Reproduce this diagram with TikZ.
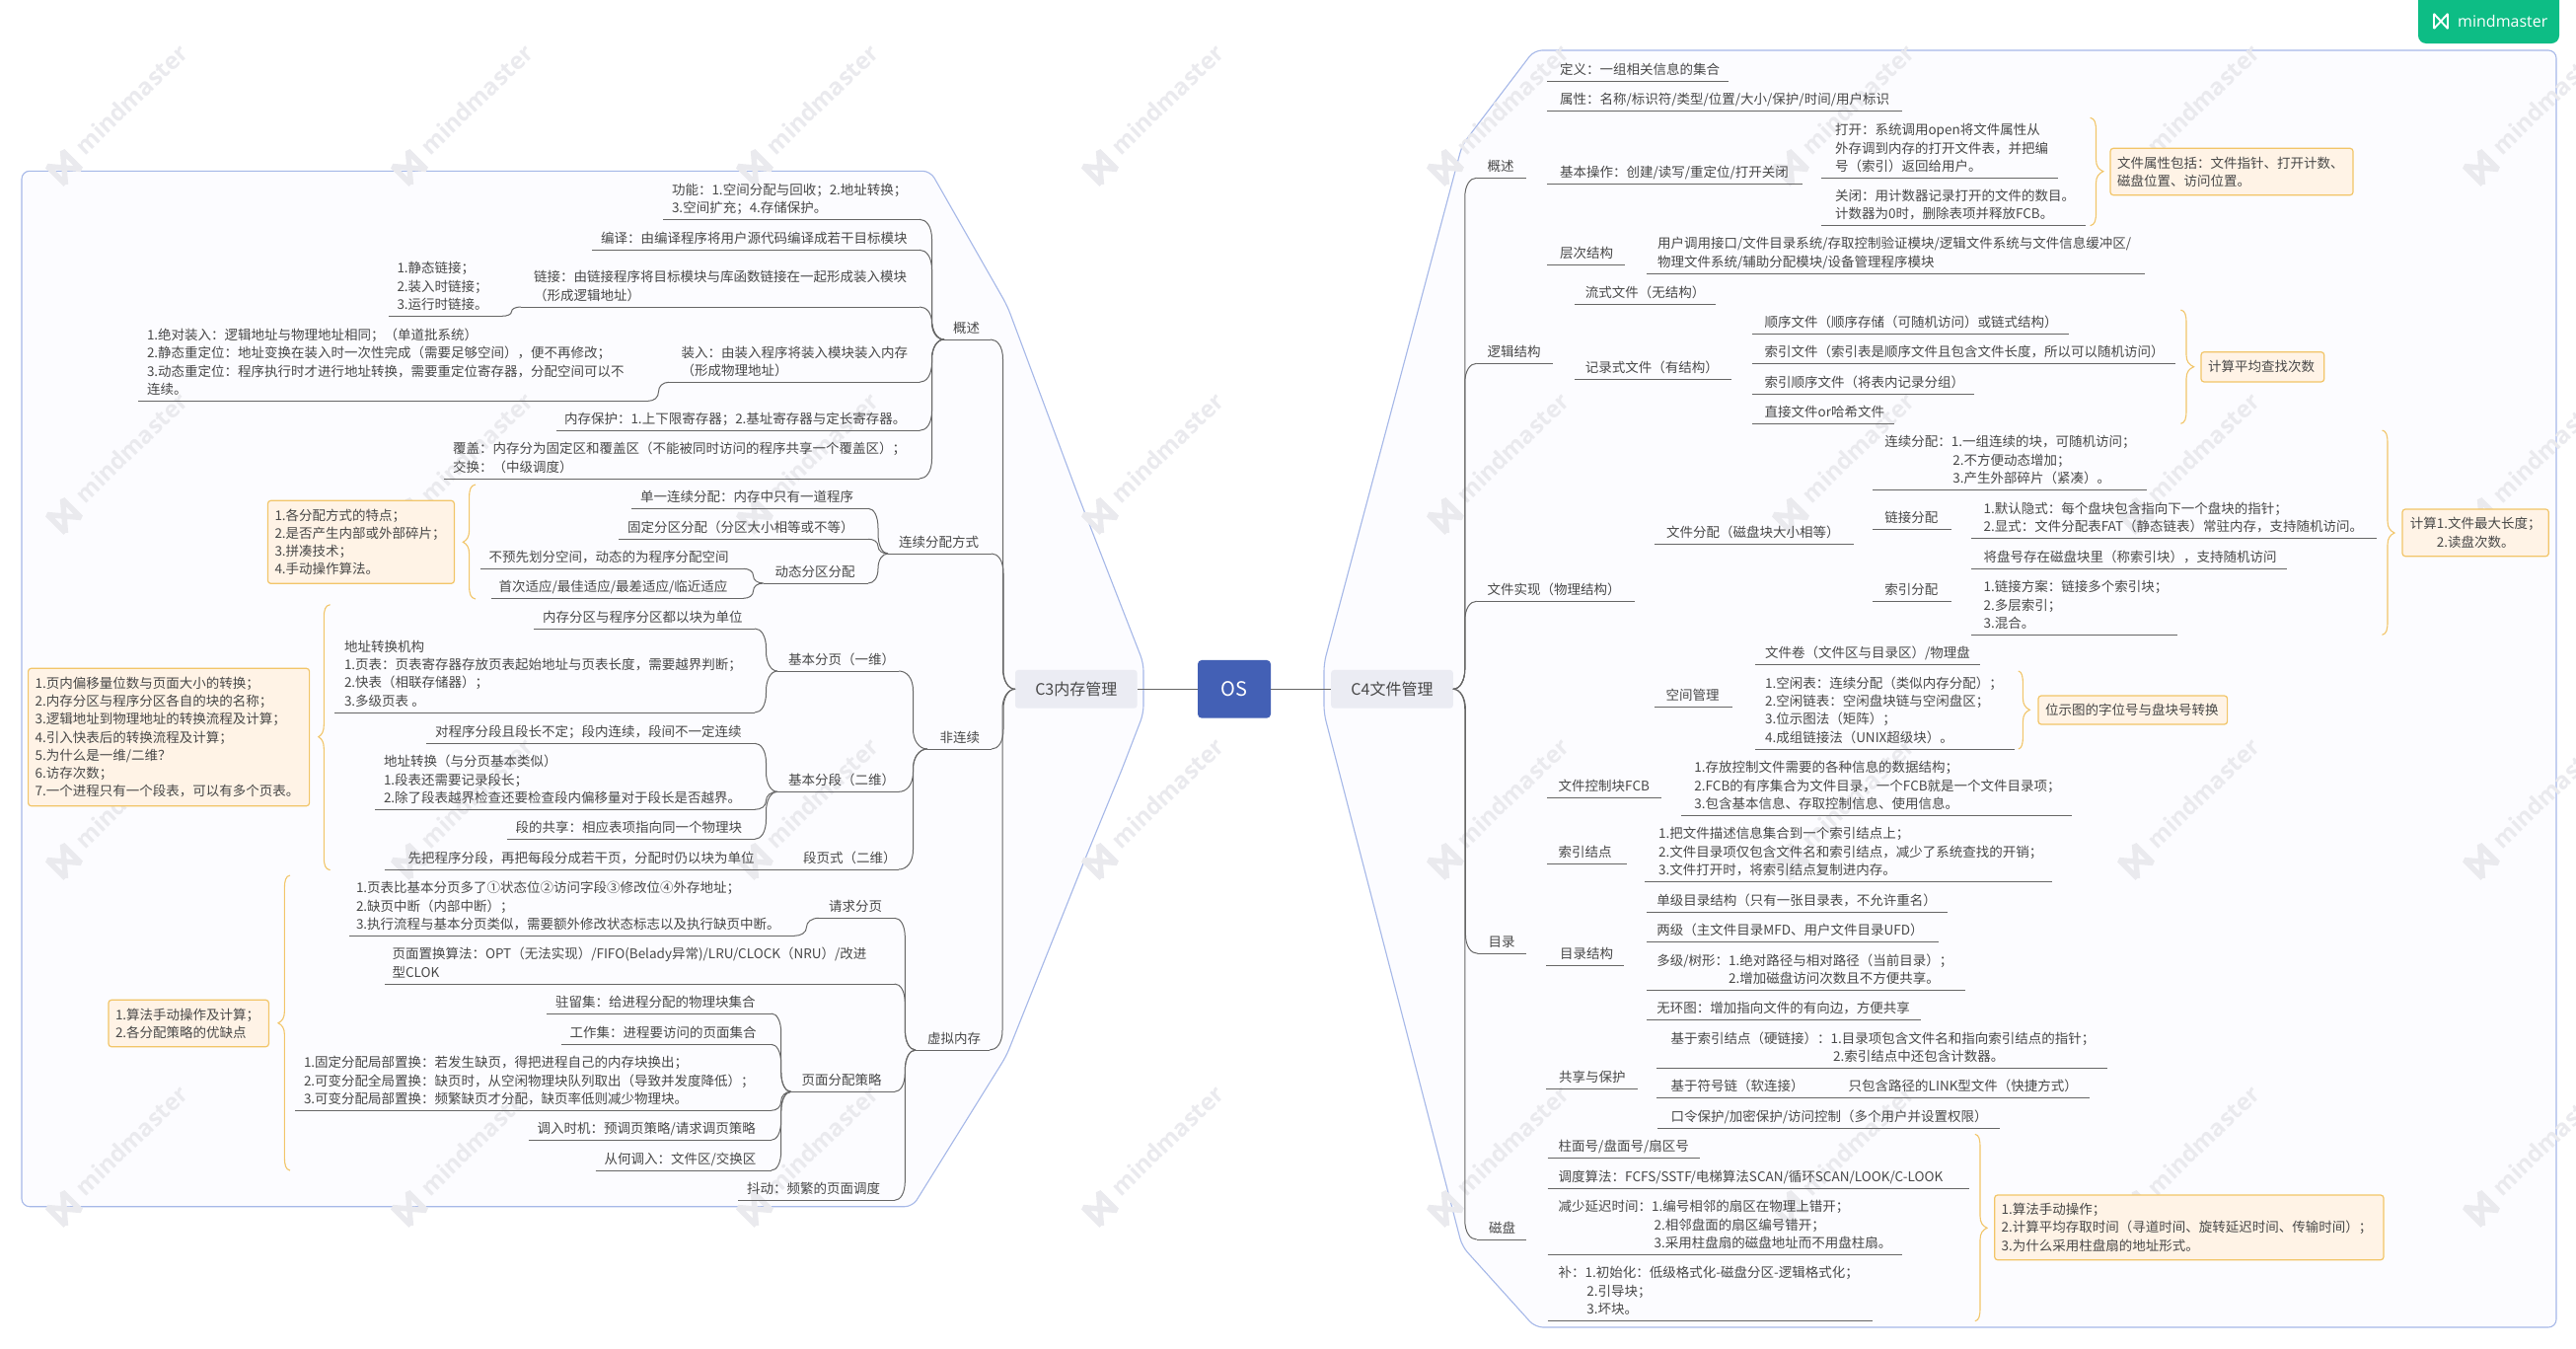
\documentclass[tikz,border=0pt]{standalone}
\usepackage{fontspec}
\setmainfont{Noto Sans CJK SC}
\newfontfamily\wmfont{Open Sans}
\definecolor{txt}{HTML}{484848}
\definecolor{ln}{HTML}{666666}
\definecolor{fr}{HTML}{A6B8E8}
\definecolor{frf}{HTML}{FCFCFF}
\definecolor{orb}{HTML}{F2C568}
\definecolor{orf}{HTML}{FFF3E6}
\definecolor{wm}{HTML}{EAEAEE}
\definecolor{root}{HTML}{4360B5}
\definecolor{mainf}{HTML}{EBECF3}
\definecolor{bdg}{HTML}{0DBD85}
\newcommand{\topicfont}{\fontsize{13.5}{18.3}\selectfont}
\tikzset{
 topic/.style={rectangle,inner xsep=0pt,inner ysep=1.5pt,outer sep=0pt,text=txt,anchor=south west},
 uline/.style={draw=ln,line width=1pt},
 conn/.style={draw=ln,line width=1pt},
 callout/.style={rectangle,draw=orb,fill=orf,line width=1.2pt,rounded corners=3pt,text=txt,outer sep=0pt,inner xsep=7pt,inner ysep=0pt,anchor=north west,font=\topicfont},
 bracepath/.style={draw=orb,line width=1.1pt},
 framepath/.style={draw=fr,fill=frf,line width=1.1pt},
 mainbox/.style={rectangle,fill=mainf,rounded corners=3pt,minimum width=123.6pt,minimum height=38.7pt,text=txt,inner sep=0pt,outer sep=0pt,font=\fontsize{16}{18}\selectfont},
 wmtext/.style={text=wm,font=\wmfont\bfseries\fontsize{24}{26}\selectfont,inner sep=0pt,anchor=west,rotate=44},
}
% [pad]{name}{x0}{x1}{ybottom}{text}
\newcommand{\tp}[6][9]{%
 \pgfmathsetmacro\tpw{#4-#3-#1}%
 \node[topic] (#2) at (#3,#5) {\hspace*{#1pt}\begin{minipage}[b]{\tpw pt}\raggedright\topicfont #6\strut\end{minipage}};
 \draw[uline] (#2.south west) -- (#2.south east);
}
% connector between two anchors
\newcommand{\lk}[2]{%
 \path (#1); \pgfgetlastxy{\lkxa}{\lkya}%
 \path (#2); \pgfgetlastxy{\lkxb}{\lkyb}%
 \pgfmathsetmacro\lkmx{(\lkxa+\lkxb)/2}%
 \pgfmathsetmacro\lkdy{abs(\lkyb-\lkya)}%
 \pgfmathsetmacro\lkr{min(\lkdy/2,20)}%
 \pgfmathsetmacro\lks{\lkyb>\lkya?1:-1}%
 \pgfmathsetmacro\lkcax{\lkxa+0.6*(\lkmx-\lkxa)}%
 \pgfmathsetmacro\lkcby{\lkya+\lks*\lkr*0.45}%
 \pgfmathsetmacro\lkpy{\lkya+\lks*\lkr}%
 \pgfmathsetmacro\lkqy{\lkyb-\lks*\lkr}%
 \pgfmathsetmacro\lkcdy{\lkyb-\lks*\lkr*0.35}%
 \pgfmathsetmacro\lkcex{\lkmx+0.45*(\lkxb-\lkmx)}%
 \draw[conn] (#1) .. controls (\lkcax pt,\lkya) and (\lkmx pt,\lkcby pt) .. (\lkmx pt,\lkpy pt) -- (\lkmx pt,\lkqy pt) .. controls (\lkmx pt,\lkcdy pt) and (\lkcex pt,\lkyb) .. (#2);
}
\newcommand{\lkl}[2]{\lk{#1.south west}{#2.south east}}
\newcommand{\lkr}[2]{\lk{#1.south east}{#2.south west}}
% {xend}{xspine}{xtip}{ytop}{ymid}{ybot}
\newcommand{\bracem}[6]{%
 \draw[bracepath] (#1,#4) .. controls ({#2+(#1-#2)*.2},{#4+1}) and (#2,{#4+5}) .. (#2,{#4+14}) -- (#2,{#5-12})
  .. controls (#2,{#5-5}) and ({#2+(#3-#2)*.4},{#5-2}) .. (#3,#5)
  .. controls ({#2+(#3-#2)*.4},{#5+2}) and (#2,{#5+5}) .. (#2,{#5+12}) -- (#2,{#6-14})
  .. controls (#2,{#6-5}) and ({#2+(#1-#2)*.2},{#6-1}) .. (#1,#6);
}
% [align]{name}{x0}{y0}{x1}{y1}{text}
\newcommand{\cout}[7][left]{%
 \pgfmathsetmacro\cow{#5-#3}\pgfmathsetmacro\coh{#6-#4}\pgfmathsetmacro\cot{#5-#3-14}%
 \node[callout,minimum width=\cow pt,minimum height=\coh pt,text width=\cot pt,align=#1] (#2) at (#3,#4) {#7};
}
\begin{document}
\begin{tikzpicture}[x=1pt,y=-1pt]
\useasboundingbox (0,0) rectangle (2611,1366);
\fill[white] (0,0) rectangle (2611,1366);
% group frames
\draw[framepath,rounded corners=8pt] (22,173.3) -- (943,173.3) -- (1021,310) -- (1092,500) -- (1159,672) -- (1159,723) -- (1137,780) -- (1100,870) -- (1020,1070) -- (925,1222.7) -- (22,1222.7) -- cycle;
\draw[framepath,rounded corners=8pt] (1555,51) -- (2591,51) -- (2591,1345) -- (1556,1345) -- (1482,1263) -- (1342,723) -- (1342,672) -- (1482,147) -- cycle;
% watermarks
\foreach \wx in {65,415,765,1115,1465,1815,2165,2515}{
 \foreach \wy in {170,523,873,1225}{
  \begin{scope}[shift={(\wx,\wy)},rotate=45]
   \draw[wm,line width=5.5pt,line join=bevel] (-11,13) -- (-11,-13) -- (11,13) -- (11,-13) -- (-11,13);
  \end{scope}
  \node[wmtext] (wm\wx x\wy) at (\wx+15,\wy-18) {mindmaster};
 }
}
% badge
\fill[bdg,rounded corners=8pt] (2451,-12) rectangle (2594,44);
\draw[white,line width=1.9pt,line join=bevel] (2467,29) -- (2467,14) -- (2481,29) -- (2481,14) -- (2467,29);
\node[text=white,inner sep=0pt,anchor=west,font=\wmfont\fontsize{16}{18}\selectfont] (badge) at (2491,21) {mindmaster};
% central
\node[rectangle,fill=root,rounded corners=4pt,minimum width=74pt,minimum height=58.7pt,text=white,inner sep=0pt,outer sep=0pt,font=\fontsize{20}{22}\selectfont] (os) at (1251,698.3) {OS};
\node[mainbox] (c3) at (1090.8,698.3) {C3内存管理};
\node[mainbox] (c4) at (1411,698.3) {C4文件管理};
\draw[conn] (os) -- (c3);
\draw[conn] (os) -- (c4);

% ===== C3 =====
\tp{a1}{957}{1004}{344}{概述}
\tp{a11}{672}{932}{222.3}{功能：1.空间分配与回收；2.地址转换；\\3.空间扩充；4.存储保护。}
\tp{a12}{600}{932}{253.3}{编译：由编译程序将用户源代码编译成若干目标模块}
\tp[13]{a13}{528}{932}{311}{链接：由链接程序将目标模块与库函数链接在一起形成装入模块\\（形成逻辑地址）}
\tp{a131}{393.5}{509}{320.3}{1.静态链接；\\2.装入时链接；\\3.运行时链接。}
\tp[12.5]{a14}{678}{932}{387.3}{装入：由装入程序将装入模块装入内存\\（形成物理地址）}
\tp{a141}{140}{657}{406.3}{1.绝对装入：逻辑地址与物理地址相同；（单道批系统）\\2.静态重定位：地址变换在装入时一次性完成（需要足够空间），便不再修改；\\3.动态重定位：程序执行时才进行地址转换，需要重定位寄存器，分配空间可以不\\连续。}
\tp[8]{a15}{564}{932}{436.3}{内存保护：1.上下限寄存器；2.基址寄存器与定长寄存器。}
\tp{a16}{450}{932}{485}{覆盖：内存分为固定区和覆盖区（不能被同时访问的程序共享一个覆盖区）；\\交换：（中级调度）}
\lk{c3.west}{a1.south east}
\lkl{a1}{a11}\lkl{a1}{a12}\lkl{a1}{a13}\lkl{a1}{a14}\lkl{a1}{a15}\lkl{a1}{a16}
\lkl{a13}{a131}\lkl{a14}{a141}

\tp[11]{a2}{900}{1005}{561}{连续分配方式}
\tp{a21}{640}{880}{515.3}{单一连续分配：内存中只有一道程序}
\tp{a22}{627}{880}{546.3}{固定分区分配（分区大小相等或不等）}
\tp[12]{a23}{773.6}{880}{591}{动态分区分配}
\tp{a231}{486.6}{753.5}{576.3}{不预先划分空间，动态的为程序分配空间}
\tp[7.5]{a232}{498}{753.5}{606.3}{首次适应/最佳适应/最差适应/临近适应}
\lk{c3.west}{a2.south east}
\lkl{a2}{a21}\lkl{a2}{a22}\lkl{a2}{a23}\lkl{a23}{a231}\lkl{a23}{a232}

\tp[12.7]{a3}{940}{1005}{759}{非连续}
\tp[11]{a31}{788}{911}{680}{基本分页（一维）}
\tp{a311}{541}{765}{637}{内存分区与程序分区都以块为单位}
\tp[10]{a312}{339}{765}{722}{地址转换机构\\1.页表：页表寄存器存放页表起始地址与页表长度，需要越界判断；\\2.快表（相联存储器）；\\3.多级页表 。}
\tp[11]{a32}{788}{911}{802.3}{基本分段（二维）}
\tp{a321}{432}{765}{753.3}{对程序分段且段长不定；段内连续，段间不一定连续}
\tp{a322}{380}{765}{820.3}{地址转换（与分页基本类似）\\1.段表还需要记录段长；\\2.除了段表越界检查还要检查段内偏移量对于段长是否越界。}
\tp{a323}{513.5}{765}{850.3}{段的共享：相应表项指向同一个物理块}
\tp[15]{a33}{799}{911}{881}{段页式（二维）}
\tp[24]{a331}{389.5}{779}{881}{先把程序分段，再把每段分成若干页，分配时仍以块为单位}
\lk{c3.west}{a3.south east}
\lkl{a3}{a31}\lkl{a3}{a32}\lkl{a3}{a33}
\lkl{a31}{a311}\lkl{a31}{a312}\lkl{a32}{a321}\lkl{a32}{a322}\lkl{a32}{a323}\lkl{a33}{a331}

\tp[12]{a4}{928}{1003}{1064}{虚拟内存}
\tp[10]{a41}{830}{906.7}{930.3}{请求分页}
\tp[7]{a411}{354}{805}{948.3}{1.页表比基本分页多了①状态位②访问字段③修改位④外存地址；\\2.缺页中断（内部中断）；\\3.执行流程与基本分页类似，需要额外修改状态标志以及执行缺页中断。}
\tp[7.5]{a42}{390}{906.7}{997}{页面置换算法：OPT（无法实现）/FIFO(Belady异常)/LRU/CLOCK（NRU）/改进\\型CLOK}
\tp[11]{a43}{801.7}{906.7}{1106.3}{页面分配策略}
\tp{a431}{554}{781.7}{1027}{驻留集：给进程分配的物理块集合}
\tp{a432}{568.6}{781.7}{1058.3}{工作集：进程要访问的页面集合}
\tp{a433}{299}{781.7}{1125.3}{1.固定分配局部置换：若发生缺页，得把进程自己的内存块换出；\\2.可变分配全局置换：缺页时，从空闲物理块队列取出（导致并发度降低）；\\3.可变分配局部置换：频繁缺页才分配，缺页率低则减少物理块。}
\tp{a434}{535.6}{781.7}{1155.3}{调入时机：预调页策略/请求调页策略}
\tp{a435}{603.5}{781.7}{1186}{从何调入：文件区/交换区}
\tp{a44}{748}{906.7}{1216.3}{抖动：频繁的页面调度}
\lk{c3.west}{a4.south east}
\lkl{a4}{a41}\lkl{a4}{a42}\lkl{a4}{a43}\lkl{a4}{a44}
\lkl{a41}{a411}
\lkl{a43}{a431}\lkl{a43}{a432}\lkl{a43}{a433}\lkl{a43}{a434}\lkl{a43}{a435}

\bracem{482}{475.6}{469.3}{491}{549.3}{607}
\bracem{334.6}{328.3}{322.8}{612.7}{746.7}{881.7}
\bracem{294}{288.4}{282}{887}{1036.7}{1186}
\cout{n1}{271.5}{507.3}{460.4}{591.3}{1.各分配方式的特点；\\2.是否产生内部或外部碎片；\\3.拼凑技术；\\4.手动操作算法。}
\cout{n2}{28.6}{677.3}{313.6}{816.7}{1.页内偏移量位数与页面大小的转换；\\2.内存分区与程序分区各自的块的名称；\\3.逻辑地址到物理地址的转换流程及计算；\\4.引入快表后的转换流程及计算；\\5.为什么是一维/二维？\\6.访存次数；\\7.一个进程只有一个段表，可以有多个页表。}
\cout{n3}{110}{1013.3}{272.4}{1060.7}{1.算法手动操作及计算；\\2.各分配策略的优缺点}

% ===== C4 =====
\tp[11]{b1}{1496.7}{1546.6}{180.3}{概述}
\tp[13]{b11}{1568}{1752}{82.3}{定义：一组相关信息的集合}
\tp[13]{b12}{1568}{1927.7}{112.3}{属性：名称/标识符/类型/位置/大小/保护/时间/用户标识}
\tp[13]{b13}{1568}{1827}{186.3}{基本操作：创建/读写/重定位/打开关闭}
\tp[14.5]{b131}{1845.5}{2086.3}{180.3}{打开：系统调用open将文件属性从\\外存调到内存的打开文件表，并把编\\号（索引）返回给用户。}
\tp[14.5]{b132}{1845.5}{2113.5}{228.3}{关闭：用计数器记录打开的文件的数目。\\计数器为0时，删除表项并释放FCB。}
\tp[13]{b14}{1568}{1647}{268.3}{层次结构}
\tp[11]{b141}{1669}{2173.7}{277}{用户调用接口/文件目录系统/存取控制验证模块/逻辑文件系统与文件信息缓冲区/\\物理文件系统/辅助分配模块/设备管理程序模块}
\lk{c4.east}{b1.south west}
\lkr{b1}{b11}\lkr{b1}{b12}\lkr{b1}{b13}\lkr{b1}{b14}
\lkr{b13}{b131}\lkr{b13}{b132}\lkr{b14}{b141}
\bracem{2118.6}{2124.5}{2131.8}{119.3}{173.7}{228.7}
\cout{n4}{2139}{150.3}{2385}{197.7}{文件属性包括：文件指针、打开计数、\\磁盘位置、访问位置。}

\tp[11]{b2}{1496.7}{1573.8}{368.3}{逻辑结构}
\tp[11]{b21}{1595.8}{1739}{308.3}{流式文件（无结构）}
\tp[11]{b22}{1595.8}{1755}{384.3}{记录式文件（有结构）}
\tp[13]{b221}{1775.7}{2096.6}{338.3}{顺序文件（顺序存储（可随机访问）或链式结构）}
\tp[13]{b222}{1775.7}{2205}{368.3}{索引文件（索引表是顺序文件且包含文件长度，所以可以随机访问）}
\tp[13]{b223}{1775.7}{2001}{399}{索引顺序文件（将表内记录分组）}
\tp[13]{b224}{1775.7}{1920.4}{429.3}{直接文件or哈希文件}
\lk{c4.east}{b2.south west}
\lkr{b2}{b21}\lkr{b2}{b22}\lkr{b22}{b221}\lkr{b22}{b222}\lkr{b22}{b223}\lkr{b22}{b224}
\bracem{2210.4}{2216}{2223.6}{314}{371.7}{429.3}
\cout{n5}{2231}{356.7}{2355.7}{387}{计算平均查找次数}

\tp[11]{b3}{1496.7}{1656.8}{609.3}{文件实现（物理结构）}
\tp[12.5]{b31}{1676.6}{1878.5}{551}{文件分配（磁盘块大小相等）}
\tp[12]{b311}{1898.3}{2175.9}{496.3}{连续分配：1.一组连续的块，可随机访问；\\\hspace*{69pt}2.不方便动态增加；\\\hspace*{69pt}3.产生外部碎片（紧凑）。}
\tp[12]{b312}{1898.3}{1977.6}{536.3}{链接分配}
\tp[12.5]{b3121}{1998}{2409}{545.3}{1.默认隐式：每个盘块包含指向下一个盘块的指针；\\2.显式：文件分配表FAT（静态链表）常驻内存，支持随机访问。}
\tp[12]{b313}{1898.3}{1977.6}{609.3}{索引分配}
\tp[12.5]{b3131}{1998}{2317.6}{576}{将盘号存在磁盘块里（称索引块），支持随机访问}
\tp[12.5]{b3132}{1998}{2207.4}{643.3}{1.链接方案：链接多个索引块；\\2.多层索引；\\3.混合。}
\tp[12]{b32}{1676.7}{1756}{716.3}{空间管理}
\tp[10]{b321}{1779}{2007.3}{673.3}{文件卷（文件区与目录区）/物理盘}
\tp[10]{b322}{1779}{2041.8}{759}{1.空闲表：连续分配（类似内存分配）；\\2.空闲链表：空闲盘块链与空闲盘区；\\3.位示图法（矩阵）；\\4.成组链接法（UNIX超级块）。}
\lk{c4.east}{b3.south west}
\lkr{b3}{b31}\lkr{b3}{b32}\lkr{b31}{b311}\lkr{b31}{b312}\lkr{b31}{b313}
\lkr{b312}{b3121}\lkr{b313}{b3131}\lkr{b313}{b3132}\lkr{b32}{b321}\lkr{b32}{b322}
\bracem{2414.5}{2420}{2427}{436}{540}{643.3}
\cout[center]{n6}{2435}{516}{2583.3}{563.7}{计算1.文件最大长度；\\2.读盘次数。}
\bracem{2045.8}{2050.4}{2057.3}{680}{719.3}{759}
\cout{n7}{2066}{705}{2257.6}{734}{位示图的字位号与盘块号转换}

\tp[10.5]{b4}{1498}{1546.7}{966.3}{目录}
\tp[11.7]{b41}{1568}{1684}{808.3}{文件控制块FCB}
\tp[13.4]{b411}{1704}{2100.3}{826.3}{1.存放控制文件需要的各种信息的数据结构；\\2.FCB的有序集合为文件目录，一个FCB就是一个文件目录项；\\3.包含基本信息、存取控制信息、使用信息。}
\tp[11.7]{b42}{1568}{1648.6}{875.7}{索引结点}
\tp[14]{b421}{1667}{2080}{893.3}{1.把文件描述信息集合到一个索引结点上；\\2.文件目录项仅包含文件名和索引结点，减少了系统查找的开销；\\3.文件打开时，将索引结点复制进内存。}
\tp[14]{b43}{1567}{1646}{978.3}{目录结构}
\tp[10.4]{b431}{1669}{1974}{924.3}{单级目录结构（只有一张目录表，不允许重名）}
\tp[10.4]{b432}{1669}{1965}{954.3}{两级（主文件目录MFD、用户文件目录UFD）}
\tp[10.4]{b433}{1669}{1991.6}{1003.3}{多级/树形：1.绝对路径与相对路径（当前目录）；\\\hspace*{72.7pt}2.增加磁盘访问次数且不方便共享。}
\tp[10.4]{b434}{1669}{1947}{1033}{无环图：增加指向文件的有向边，方便共享}
\tp[13]{b44}{1567}{1660}{1103.3}{共享与保护}
\tp[14.3]{b441}{1679.4}{2136}{1082.3}{基于索引结点（硬链接）：1.目录项包含文件名和指向索引结点的指针；\\\hspace*{164.3pt}2.索引结点中还包含计数器。}
\tp[14.3]{b442}{1679.4}{2118}{1112.3}{\makebox[180pt][l]{基于符号链（软连接）}只包含路径的LINK型文件（快捷方式）}
\tp[13.5]{b443}{1680}{2026.8}{1143.3}{口令保护/加密保护/访问控制（多个用户并设置权限）}
\lk{c4.east}{b4.south west}
\lkr{b4}{b41}\lkr{b4}{b42}\lkr{b4}{b43}\lkr{b4}{b44}
\lkr{b41}{b411}\lkr{b42}{b421}
\lkr{b43}{b431}\lkr{b43}{b432}\lkr{b43}{b433}\lkr{b43}{b434}
\lkr{b44}{b441}\lkr{b44}{b442}\lkr{b44}{b443}

\tp[12.3]{b5}{1496.7}{1546.6}{1256}{磁盘}
\tp[11]{b51}{1568.7}{1722.8}{1173.3}{柱面号/盘面号/扇区号}
\tp[11]{b52}{1568.7}{1996}{1204.3}{调度算法：FCFS/SSTF/电梯算法SCAN/循环SCAN/LOOK/C-LOOK}
\tp[11]{b53}{1568.7}{1927.7}{1271.3}{减少延迟时间：1.编号相邻的扇区在物理上错开；\\\hspace*{97pt}2.相邻盘面的扇区编号错开；\\\hspace*{97pt}3.采用柱盘扇的磁盘地址而不用盘柱扇。}
\tp[11]{b54}{1568.7}{1898.3}{1338.3}{补：1.初始化：低级格式化-磁盘分区-逻辑格式化；\\\hspace*{28.6pt}2.引导块；\\\hspace*{28.6pt}3.坏块。}
\lk{c4.east}{b5.south west}
\lkr{b5}{b51}\lkr{b5}{b52}\lkr{b5}{b53}\lkr{b5}{b54}
\bracem{2001.9}{2007}{2014}{1149.3}{1244.3}{1338.7}
\cout{n8}{2021.7}{1211}{2416}{1276.7}{1.算法手动操作；\\2.计算平均存取时间（寻道时间、旋转延迟时间、传输时间）；\\3.为什么采用柱盘扇的地址形式。}
\end{tikzpicture}
\end{document}
